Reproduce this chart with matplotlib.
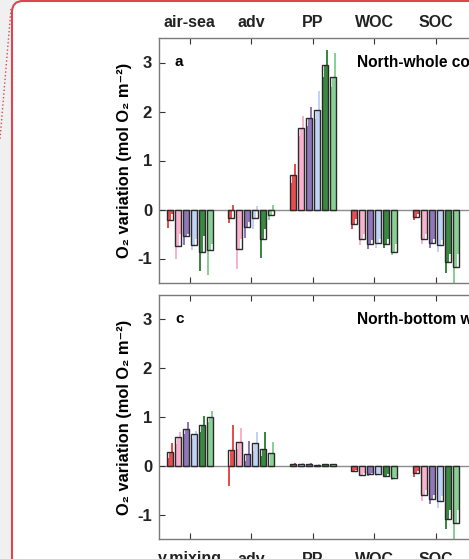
import matplotlib
matplotlib.use("Agg")
import matplotlib.pyplot as plt
from matplotlib.patches import FancyBboxPatch
from matplotlib.lines import Line2D
from matplotlib.transforms import IdentityTransform

plt.rcParams['font.family'] = ['Liberation Sans', 'DejaVu Sans']
plt.rcParams['font.weight'] = 'bold'
plt.rcParams['axes.unicode_minus'] = False

colors = ['#e6393c', '#f9a9c9', '#8468b4', '#b9cdf6', '#237c2b', '#7ccb88']

top_labels = ['air-sea', 'adv', 'PP', 'WOC', 'SOC']
bot_labels = ['v.mixing', 'adv', 'PP', 'WOC', 'SOC']

# panel a: North-whole column  (rows = terms, cols = 6 runs)
a_mean = [[-0.22, -0.74, -0.54, -0.72, -0.86, -0.82],
          [-0.17, -0.80, -0.35, -0.17, -0.60, -0.11],
          [0.70, 1.66, 1.86, 2.03, 2.95, 2.71],
          [-0.29, -0.60, -0.70, -0.68, -0.71, -0.86],
          [-0.15, -0.60, -0.69, -0.72, -1.08, -1.17]]
a_lo = [[-0.38, -1.00, -0.72, -0.82, -1.25, -1.33],
        [-0.27, -1.22, -0.58, -0.40, -0.98, -0.22],
        [0.55, 1.50, 1.70, 1.85, 2.70, 2.50],
        [-0.40, -0.72, -0.80, -0.78, -0.78, -0.92],
        [-0.22, -0.70, -0.78, -0.87, -1.30, -1.52]]
a_hi = [[-0.10, -0.50, -0.50, -0.60, -0.55, -0.70],
        [0.10, -0.60, -0.25, 0.08, -0.40, 0.10],
        [0.92, 1.90, 2.10, 2.42, 3.25, 3.20],
        [-0.20, -0.50, -0.62, -0.60, -0.60, -0.70],
        [-0.10, -0.50, -0.60, -0.62, -0.90, -0.90]]

# panel c: North-bottom water
c_mean = [[0.29, 0.58, 0.76, 0.66, 0.84, 1.00],
          [0.33, 0.48, 0.25, 0.46, 0.35, 0.26],
          [0.04, 0.04, 0.03, 0.02, 0.03, 0.03],
          [-0.11, -0.18, -0.17, -0.17, -0.20, -0.26],
          [-0.15, -0.60, -0.68, -0.73, -1.09, -1.18]]
c_lo = [[0.15, 0.45, 0.65, 0.55, 0.70, 0.90],
        [-0.42, 0.35, 0.10, 0.30, 0.20, -0.03],
        [0.02, 0.02, 0.02, 0.01, 0.02, 0.02],
        [-0.13, -0.20, -0.20, -0.20, -0.22, -0.30],
        [-0.22, -0.72, -0.78, -0.87, -1.30, -1.52]]
c_hi = [[0.47, 0.70, 0.90, 0.72, 1.03, 1.13],
        [0.83, 0.78, 0.50, 0.70, 0.70, 0.48],
        [0.05, 0.05, 0.05, 0.03, 0.04, 0.04],
        [-0.08, -0.15, -0.14, -0.14, -0.17, -0.22],
        [-0.10, -0.50, -0.60, -0.62, -0.90, -0.90]]

W, H = 469, 559
fig = plt.figure(figsize=(W / 100, H / 100), dpi=100)
fig.patch.set_facecolor('#f0f0f0')

# card frame behind the chart
card = FancyBboxPatch((12, -30), 700, 588, boxstyle="round,pad=0,rounding_size=11",
                      transform=IdentityTransform(), facecolor='white',
                      edgecolor='#dc4650', lw=1.5, zorder=-2)
fig.patches.append(card)
fig.lines.append(Line2D([11, 0], [550, 420], transform=IdentityTransform(),
                        color='#dc4650', lw=1, ls=':', zorder=-1))

px = 61.5  # pixels per category
ax_w = 6 * px / W


def draw_panel(ax, mean, lo, hi, letter, title, labels, top):
    step = 0.13
    bw = 0.105
    for k in range(len(mean)):
        for j in range(6):
            xc = k + 1 + (j - 2.5) * step
            sw = bw / 3
            vals = [lo[k][j], mean[k][j], hi[k][j]]
            for m, v in enumerate(vals):
                ax.bar(xc - bw / 2 + (m + 0.5) * sw, v, width=sw * 0.9,
                       color=colors[j], alpha=0.9, lw=0, zorder=2)
            ax.bar(xc, mean[k][j], width=bw, facecolor='none',
                   edgecolor='#2a2a2a', lw=1.0, zorder=3)
    ax.axhline(0, color='#8c8c8c', lw=1, zorder=1)
    ax.set_xlim(0.5, 6.5)
    ax.set_ylim(-1.5, 3.5)
    ax.set_yticks([-1, 0, 1, 2, 3])
    ax.set_xticks(range(1, 6))
    ax.set_xticklabels(labels, fontsize=11.5, fontweight='bold')
    ax.tick_params(direction='in', length=4, width=0.8, colors='#333333',
                   top=True, bottom=True, right=True, labelsize=12, pad=5)
    if top:
        ax.tick_params(axis='x', labelsize=11.5, labeltop=True,
                       labelbottom=False, pad=6)
    else:
        ax.tick_params(axis='x', labelsize=11.5, pad=9)
    for s in ax.spines.values():
        s.set_color('#7a7a7a')
        s.set_linewidth(1.0)
    for t in ax.get_yticklabels() + ax.get_xticklabels():
        t.set_fontweight('bold')
        t.set_color('#222222')
    ax.set_ylabel('O₂ variation (mol O₂ m⁻²)', fontsize=11.8,
                  fontweight='bold', labelpad=4)
    ax.text(0.76, 3.0, letter, fontsize=11, fontweight='bold', va='center')
    ax.text(3.72, 3.0, title, fontsize=11.2, fontweight='bold', va='center')


ax_a = fig.add_axes([159 / W, 1 - 283 / H, ax_w, 245 / H])
draw_panel(ax_a, a_mean, a_lo, a_hi, 'a', 'North-whole column', top_labels, True)

ax_c = fig.add_axes([159 / W, 1 - 539 / H, ax_w, 244 / H])
draw_panel(ax_c, c_mean, c_lo, c_hi, 'c', 'North-bottom water', bot_labels, False)

fig.savefig('out.png', dpi=100, facecolor=fig.get_facecolor())
